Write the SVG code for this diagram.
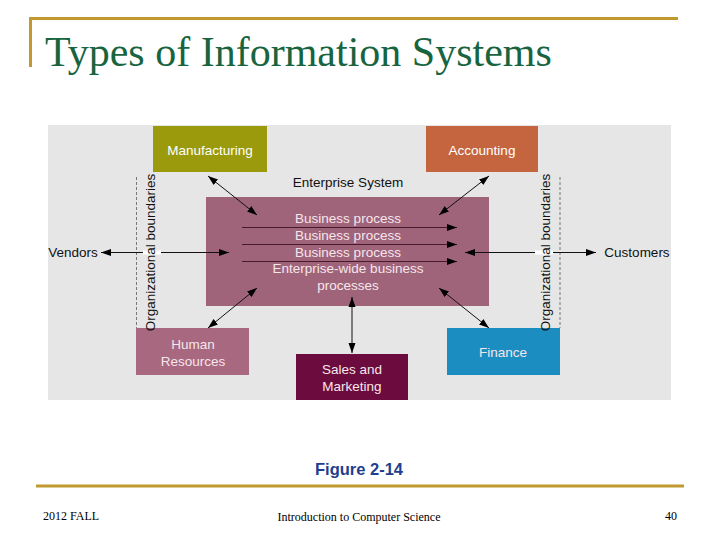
<svg xmlns="http://www.w3.org/2000/svg" width="720" height="540" viewBox="0 0 720 540">
<style>
.t{font-family:"Liberation Sans",Arial,sans-serif;font-size:13.5px;text-anchor:middle}
.w{fill:#ffffff}
.pw{fill:#f5e6ec}
.k{fill:#111111}
.ft{font-family:"Liberation Serif","Times New Roman",serif;font-size:12px;fill:#000}
.c{stroke:#111;stroke-width:1;fill:none}
.bp{stroke:#4a1a2c;stroke-width:1;fill:none}
.d{stroke:#777;stroke-width:1;stroke-dasharray:3 2;fill:none}
</style>
<defs>
<marker id="ah" markerUnits="userSpaceOnUse" markerWidth="11" markerHeight="8" refX="10" refY="4" orient="auto-start-reverse">
<path d="M0,0.5 L10,4 L0,7.5 z" fill="#000"/>
</marker>
</defs>
<rect width="720" height="540" fill="#fff"/>
<g id="frame">
<line x1="29" y1="18.5" x2="678" y2="18.5" stroke="#c09a2e" stroke-width="3"/>
<line x1="30.5" y1="17" x2="30.5" y2="67" stroke="#c09a2e" stroke-width="3"/>
<line x1="36" y1="486" x2="684" y2="486" stroke="#c09a2e" stroke-width="3"/>
<text x="45" y="66" font-family="'Liberation Serif','Times New Roman',serif" font-size="42" fill="#17643f">Types of Information Systems</text>
</g>
<rect id="panel" x="48" y="125" width="623" height="275" fill="#e6e6e6"/>
<g id="boundaries">
<line class="d" x1="136.5" y1="177" x2="136.5" y2="328"/>
<line class="d" x1="560" y1="177" x2="560" y2="328"/>
</g>
<g id="manufacturing">
<rect x="153" y="126" width="114" height="46" fill="#9a9a0c"/>
<text class="t w" x="210" y="155">Manufacturing</text>
</g>
<g id="accounting">
<rect x="426" y="126" width="112" height="46" fill="#c4653f"/>
<text class="t w" x="482" y="155">Accounting</text>
</g>
<g id="enterprise-system">
<text class="t k" x="348" y="187">Enterprise System</text>
<rect x="206" y="197" width="283" height="109" fill="#a0647a"/>
<text class="t pw" x="348" y="223">Business process</text>
<text class="t pw" x="348" y="240">Business process</text>
<text class="t pw" x="348" y="257">Business process</text>
<text class="t pw" x="348" y="273">Enterprise-wide business</text>
<text class="t pw" x="348" y="290">processes</text>
<line class="bp" x1="242" y1="227.5" x2="457" y2="227.5" marker-end="url(#ah)"/>
<line class="bp" x1="242" y1="244.5" x2="457" y2="244.5" marker-end="url(#ah)"/>
<line class="bp" x1="242" y1="261.5" x2="457" y2="261.5" marker-end="url(#ah)"/>
</g>
<g id="vendors">
<text class="t k" x="73" y="257">Vendors</text>
</g>
<g id="customers">
<text class="t k" x="637" y="257">Customers</text>
</g>
<g id="human-resources">
<rect x="136" y="328" width="113" height="47" fill="#a8687f"/>
<text class="t pw" x="193" y="349">Human</text>
<text class="t pw" x="193" y="366">Resources</text>
</g>
<g id="sales-marketing">
<rect x="296" y="354" width="112" height="46" fill="#6c0b3d"/>
<text class="t pw" x="352" y="374">Sales and</text>
<text class="t pw" x="352" y="391">Marketing</text>
</g>
<g id="finance">
<rect x="447" y="328" width="113" height="47" fill="#1c8dc0"/>
<text class="t pw" x="503" y="357">Finance</text>
</g>
<g id="connectors">
<line class="c" x1="101" y1="252.5" x2="229" y2="252.5" marker-start="url(#ah)" marker-end="url(#ah)"/>
<line class="c" x1="465" y1="252.5" x2="596" y2="252.5" marker-start="url(#ah)" marker-end="url(#ah)"/>
<rect x="143" y="250.5" width="18" height="4" fill="#fff"/>
<rect x="535" y="250.5" width="18" height="4" fill="#fff"/>
<line class="c" x1="208" y1="176" x2="257" y2="215" marker-start="url(#ah)" marker-end="url(#ah)"/>
<line class="c" x1="489" y1="176" x2="439" y2="215" marker-start="url(#ah)" marker-end="url(#ah)"/>
<line class="c" x1="257" y1="288" x2="208" y2="328" marker-start="url(#ah)" marker-end="url(#ah)"/>
<line class="c" x1="439" y1="288" x2="489" y2="328" marker-start="url(#ah)" marker-end="url(#ah)"/>
<line class="c" x1="352" y1="297" x2="352" y2="353" marker-start="url(#ah)" marker-end="url(#ah)"/>
</g>
<g id="label-boundaries-left">
<text class="t k" transform="translate(154.5,252.5) rotate(-90)">Organizational boundaries</text>
</g>
<g id="label-boundaries-right">
<text class="t k" transform="translate(550,252.5) rotate(-90)">Organizational boundaries</text>
</g>
<text x="359" y="475" font-family="'Liberation Sans',Arial,sans-serif" font-weight="bold" font-size="16.5" fill="#1f3f8e" text-anchor="middle">Figure 2-14</text>
<g id="footer">
<text class="ft" x="43" y="520">2012 FALL</text>
<text class="ft" x="359" y="521" text-anchor="middle">Introduction to Computer Science</text>
<text class="ft" x="677" y="520" text-anchor="end">40</text>
</g>
</svg>
